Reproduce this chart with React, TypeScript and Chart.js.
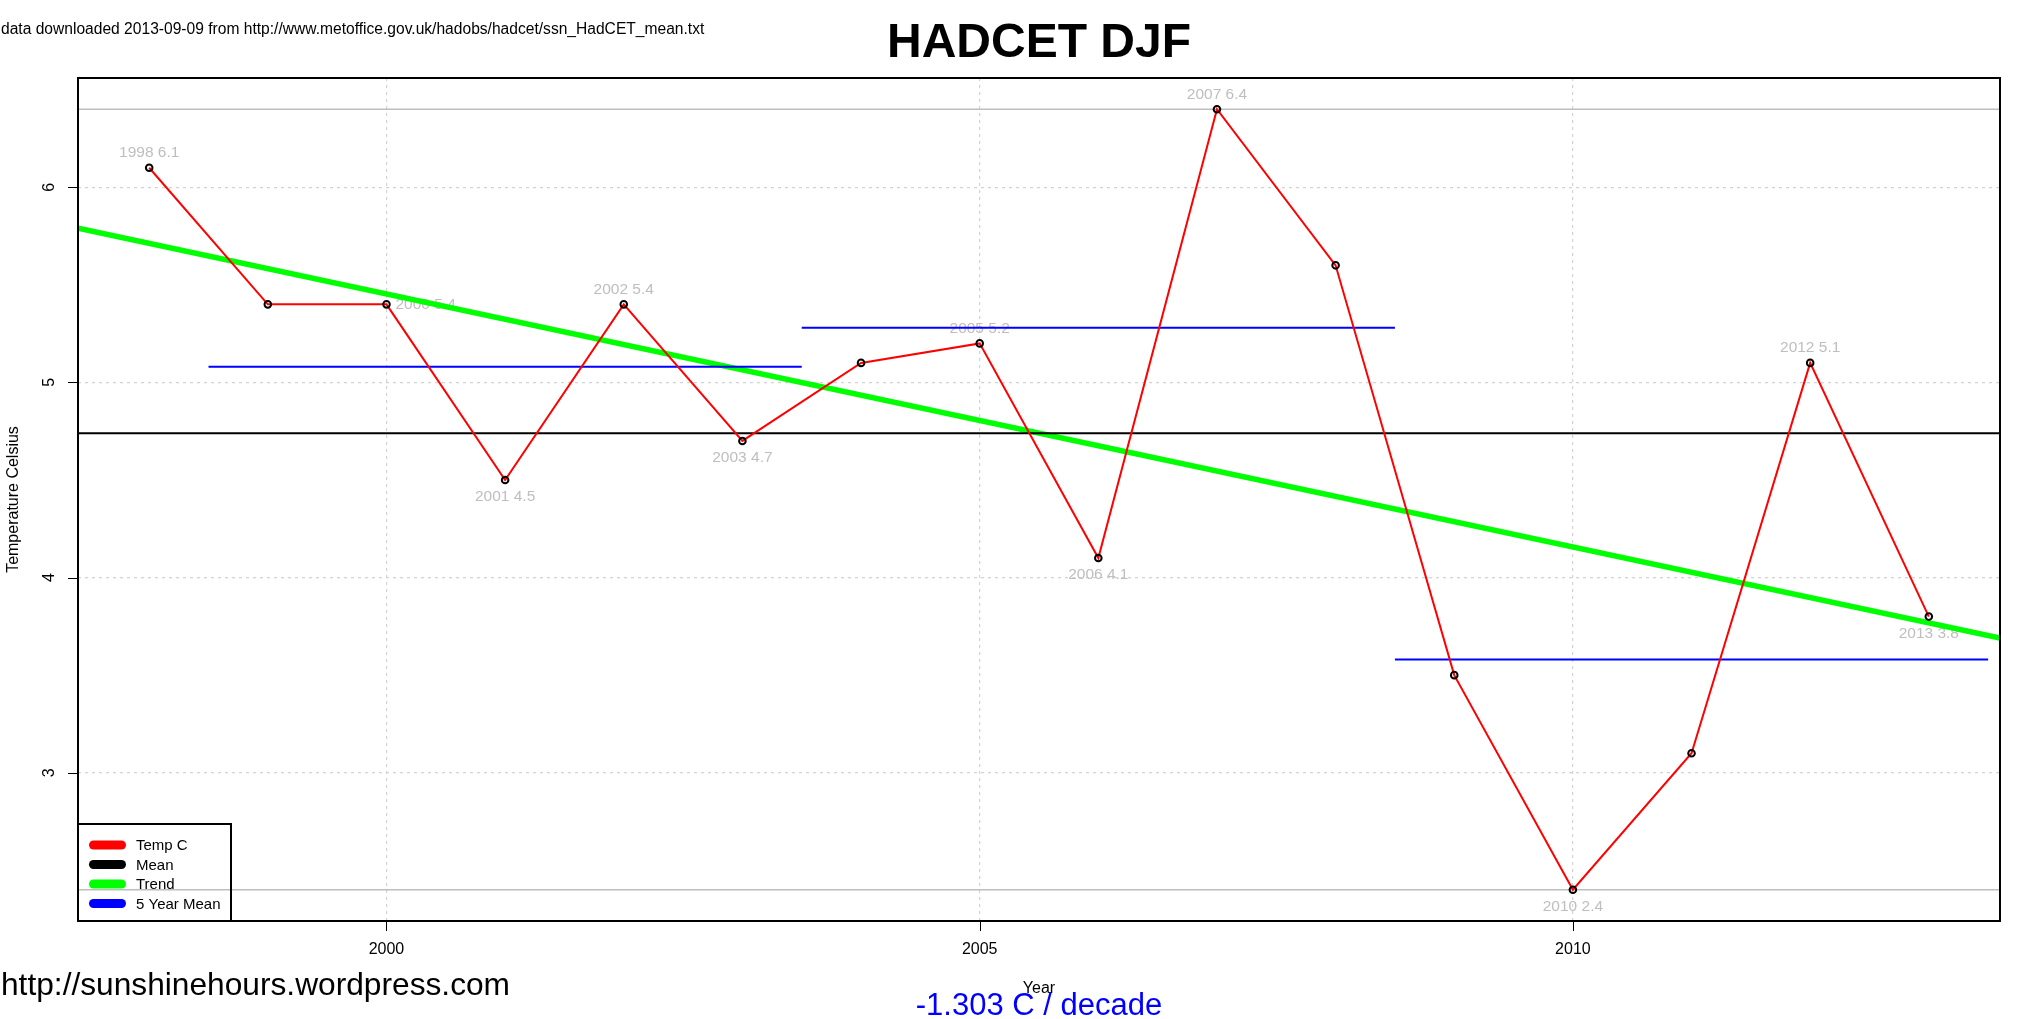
import React, { useEffect, useRef } from "react";
import { Chart, registerables } from "chart.js";

Chart.register(...registerables);

// ---------- data ----------
const years = [1998, 1999, 2000, 2001, 2002, 2003, 2004, 2005, 2006, 2007, 2008, 2009, 2010, 2011, 2012, 2013];
const temps = [6.1, 5.4, 5.4, 4.5, 5.4, 4.7, 5.1, 5.2, 4.1, 6.4, 5.6, 3.5, 2.4, 3.1, 5.1, 3.8];
const labelSides = ["above", "none", "right", "below", "above", "below", "none", "above", "below", "above", "none", "none", "below", "none", "above", "below"];
const meanTemp = [4.74];
const rangeTemps = [6.4, 2.4];
const trendYears = [1997.4, 2013.6];
const trendTemps = [5.79, 3.69];
const fiveYearStarts = [1998.5, 2003.5, 2008.5];
const fiveYearEnds = [2003.5, 2008.5, 2013.5];
const fiveYearMeans = [5.08, 5.28, 3.58];
const xTicks = [2000, 2005, 2010];
const yTicks = [3, 4, 5, 6];
const xRange = [1997.4, 2013.6];
const yRange = [2.24, 6.56];
const seriesNames = ["Temp C", "Mean", "Trend", "5 Year Mean"];

const FONT = '"Liberation Sans", Arial, Helvetica, sans-serif';

const tempPoints = years.map((x, i) => ({ x, y: temps[i] }));

const fiveYearData: { x: number; y: number | null }[] = [];
fiveYearStarts.forEach((s, i) => {
  fiveYearData.push({ x: s, y: fiveYearMeans[i] });
  fiveYearData.push({ x: fiveYearEnds[i], y: fiveYearMeans[i] });
  fiveYearData.push({ x: fiveYearEnds[i], y: null });
});

const rangeData: { x: number; y: number | null }[] = [];
rangeTemps.forEach((v) => {
  rangeData.push({ x: xRange[0], y: v });
  rangeData.push({ x: xRange[1], y: v });
  rangeData.push({ x: xRange[1], y: null });
});

const lineBase = { pointRadius: 0, tension: 0, fill: false, spanGaps: false };

const rPlugin = {
  id: "rStyle",
  beforeDatasetsDraw(chart: any) {
    const ctx = chart.ctx;
    const xs = chart.scales.x;
    const ys = chart.scales.y;
    ctx.save();
    ctx.font = `15.5px ${FONT}`;
    ctx.fillStyle = "#bebebe";
    ctx.textBaseline = "middle";
    years.forEach((yr, i) => {
      const side = labelSides[i];
      if (side === "none") return;
      const px = xs.getPixelForValue(yr);
      const py = ys.getPixelForValue(temps[i]);
      const txt = `${yr} ${temps[i].toFixed(1)}`;
      if (side === "above") {
        ctx.textAlign = "center";
        ctx.fillText(txt, px, py - 15);
      } else if (side === "below") {
        ctx.textAlign = "center";
        ctx.fillText(txt, px, py + 17);
      } else {
        ctx.textAlign = "left";
        ctx.fillText(txt, px + 9, py);
      }
    });
    ctx.restore();
  },
  afterDraw(chart: any) {
    const ctx = chart.ctx;
    const a = chart.chartArea;
    const xs = chart.scales.x;
    const ys = chart.scales.y;
    ctx.save();

    // box
    ctx.strokeStyle = "#000";
    ctx.lineWidth = 2;
    ctx.strokeRect(a.left, a.top, a.right - a.left, a.bottom - a.top);

    // ticks
    ctx.lineWidth = 1;
    ctx.beginPath();
    xs.ticks.forEach((t: any) => {
      const px = Math.round(xs.getPixelForValue(t.value)) + 0.5;
      ctx.moveTo(px, a.bottom + 1);
      ctx.lineTo(px, a.bottom + 10);
    });
    ys.ticks.forEach((t: any) => {
      const py = Math.round(ys.getPixelForValue(t.value)) + 0.5;
      ctx.moveTo(a.left - 1, py);
      ctx.lineTo(a.left - 10, py);
    });
    ctx.stroke();

    // tick labels
    ctx.fillStyle = "#000";
    ctx.font = `16px ${FONT}`;
    ctx.textAlign = "center";
    ctx.textBaseline = "middle";
    xs.ticks.forEach((t: any) => {
      ctx.fillText(String(t.value), xs.getPixelForValue(t.value), 950);
    });
    ys.ticks.forEach((t: any) => {
      ctx.save();
      ctx.translate(50, ys.getPixelForValue(t.value));
      ctx.rotate(-Math.PI / 2);
      ctx.fillText(String(t.value), 0, 0);
      ctx.restore();
    });

    const cx = (a.left + a.right) / 2;

    // blue trend text
    ctx.fillStyle = "#0000ff";
    ctx.font = `31px ${FONT}`;
    ctx.textAlign = "center";
    ctx.textBaseline = "alphabetic";
    ctx.fillText("-1.303 C / decade", cx, 1015);

    // axis titles
    ctx.fillStyle = "#000";
    ctx.font = `16px ${FONT}`;
    ctx.textBaseline = "middle";
    ctx.fillText("Year", cx, 989);
    ctx.save();
    ctx.translate(14, (a.top + a.bottom) / 2);
    ctx.rotate(-Math.PI / 2);
    ctx.fillText("Temperature Celsius", 0, 0);
    ctx.restore();

    // title
    ctx.font = `bold 48px ${FONT}`;
    ctx.textBaseline = "alphabetic";
    ctx.fillText("HADCET DJF", cx, 57);

    // source note
    ctx.font = `15.6px ${FONT}`;
    ctx.textAlign = "left";
    ctx.textBaseline = "middle";
    ctx.fillText("data downloaded 2013-09-09 from http://www.metoffice.gov.uk/hadobs/hadcet/ssn_HadCET_mean.txt", 1, 30);

    // site
    ctx.font = `31.7px ${FONT}`;
    ctx.textBaseline = "alphabetic";
    ctx.fillText("http://sunshinehours.wordpress.com", 1, 995);

    // legend
    const ds = chart.data.datasets.filter((d: any) => seriesNames.includes(d.label));
    ds.sort((p: any, q: any) => seriesNames.indexOf(p.label) - seriesNames.indexOf(q.label));
    const lx = a.left;
    const ly = 824;
    const lw = 153;
    const lh = a.bottom - ly;
    ctx.lineWidth = 2;
    ctx.strokeStyle = "#000";
    ctx.strokeRect(lx, ly, lw, lh);
    ctx.font = `15px ${FONT}`;
    ctx.textBaseline = "middle";
    ds.forEach((d: any, i: number) => {
      const yy = ly + 21 + i * 19.5;
      ctx.strokeStyle = d.borderColor;
      ctx.lineWidth = 9;
      ctx.lineCap = "round";
      ctx.beginPath();
      ctx.moveTo(lx + 15.5, yy);
      ctx.lineTo(lx + 43.5, yy);
      ctx.stroke();
      ctx.fillStyle = "#000";
      ctx.fillText(d.label, lx + 58, yy + 1);
    });

    ctx.restore();
  },
};

export default function App() {
  const ref = useRef<HTMLCanvasElement>(null);

  useEffect(() => {
    if (!ref.current) return;
    const chart = new Chart(ref.current, {
      type: "line",
      data: {
        datasets: [
          {
            label: "points",
            data: tempPoints,
            showLine: false,
            pointRadius: 3.3,
            pointHoverRadius: 3.3,
            pointBorderColor: "#000",
            pointBorderWidth: 2,
            pointBackgroundColor: "rgba(0,0,0,0)",
            borderColor: "#000",
          },
          { ...lineBase, label: "Temp C", data: tempPoints, borderColor: "#ff0000", borderWidth: 2 },
          { ...lineBase, label: "5 Year Mean", data: fiveYearData, borderColor: "#0000ff", borderWidth: 2 },
          {
            ...lineBase,
            label: "Mean",
            data: [
              { x: xRange[0], y: meanTemp[0] },
              { x: xRange[1], y: meanTemp[0] },
            ],
            borderColor: "#000000",
            borderWidth: 2,
          },
          {
            ...lineBase,
            label: "Trend",
            data: trendYears.map((x, i) => ({ x, y: trendTemps[i] })),
            borderColor: "#00ff00",
            borderWidth: 5.5,
          },
          { ...lineBase, label: "range", data: rangeData, borderColor: "#bebebe", borderWidth: 1.6 },
        ] as any,
      },
      options: {
        animation: false,
        responsive: false,
        devicePixelRatio: 1,
        events: [],
        layout: { padding: { left: 0, right: 41, top: 78, bottom: 0 } },
        plugins: { legend: { display: false }, tooltip: { enabled: false }, title: { display: false } },
        scales: {
          x: {
            type: "linear",
            min: xRange[0],
            max: xRange[1],
            afterBuildTicks: (s: any) => {
              s.ticks = xTicks.map((v) => ({ value: v }));
            },
            afterFit: (s: any) => {
              s.height = 98;
            },
            ticks: { display: false },
            grid: { color: "#d3d3d3", lineWidth: 1.2, drawTicks: false },
            border: { display: false, dash: [3, 4] },
          },
          y: {
            type: "linear",
            min: yRange[0],
            max: yRange[1],
            afterBuildTicks: (s: any) => {
              s.ticks = yTicks.map((v) => ({ value: v }));
            },
            afterFit: (s: any) => {
              s.width = 78;
            },
            ticks: { display: false },
            grid: { color: "#d3d3d3", lineWidth: 1.2, drawTicks: false },
            border: { display: false, dash: [3, 4] },
          },
        },
      } as any,
      plugins: [rPlugin as any],
    });
    return () => chart.destroy();
  }, []);

  return (
    <div style={{ position: "fixed", left: 0, top: 0, width: 2041, height: 1019, background: "#fff" }}>
      <canvas ref={ref} width={2041} height={1019} style={{ display: "block", width: 2041, height: 1019 }} />
    </div>
  );
}
